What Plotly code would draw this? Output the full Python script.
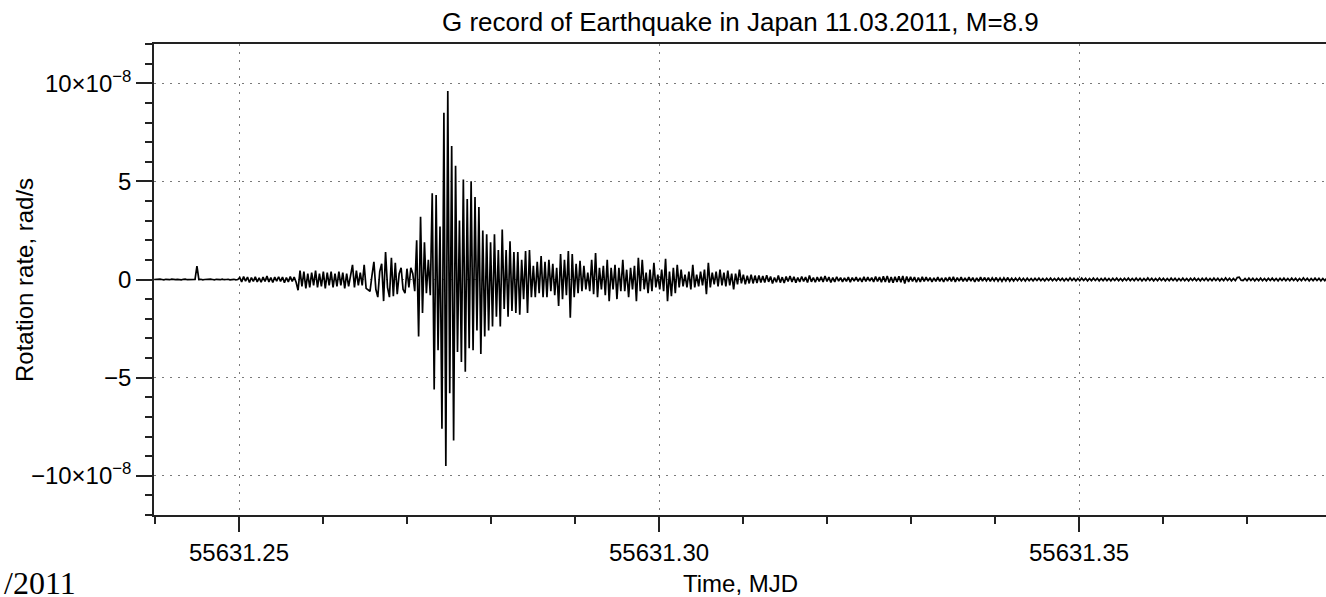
import numpy as np
import plotly.graph_objects as go

# Ring-laser "G" rotation-rate record, uniformly sampled
T0_MJD = 55631.2399          # time of the first sample (MJD)
DT_SECONDS = 20.0            # sampling interval

# rotation rate in units of 1e-8 rad/s
pre_event = [
    0.00, 0.01, -0.01, 0.02, 0.00, -0.02, 0.01, 0.00, -0.01, 0.02,
    0.00, -0.01, 0.01, 0.00, -0.02, 0.01, 0.02, -0.01, 0.00, 0.01,
    -0.01, 0.00, 0.68, 0.00, 0.01, -0.02, 0.00, 0.01, -0.01, 0.02,
    0.00, -0.02, 0.01, 0.00, -0.01, 0.02, -0.01, 0.00, 0.01, -0.02,
    0.00, 0.01, -0.02, 0.00,
]
first_arrivals = [
    0.10, -0.12, 0.15, -0.08, 0.12, -0.15, 0.10, -0.10, 0.14, -0.12,
    0.08, -0.14, 0.12, -0.10, 0.18, -0.12, 0.10, -0.15, 0.12, -0.08,
    0.14, -0.10, 0.12, -0.16, 0.10, -0.12, 0.15, -0.10, 0.12, -0.14,
    -0.55, 0.45, -0.35, 0.40, -0.45, 0.30, -0.40, 0.35, -0.30, 0.45,
    -0.40, 0.30, -0.35, 0.40, -0.45, 0.35, -0.30, 0.40, -0.40, 0.30,
    -0.35, 0.40, -0.30, 0.35, -0.45, 0.30, -0.35, 0.25,
    0.75, -0.40, 0.45, -0.30, 0.35, -0.30, 0.75, -0.45, -0.55, -0.60,
    0.20, 0.90, -0.50, -0.90, 0.40, 0.80, -1.10, 1.40, -0.40, -0.90,
    1.10, -0.85, 0.85, -0.75, 0.30, 0.60, -0.50, -0.70, 0.55, -0.40,
    0.60,
]
main_phase = [
    0.30, -0.60, 2.00, -2.90, 3.20, -1.70, 1.90, -0.70, 1.00, -0.80,
    4.40, -5.60, 4.30, -3.60, 2.70, -7.60, 8.50, -9.50, 9.60, -5.80,
    6.80, -8.20, 5.80, -3.70, 3.00, -4.20, 5.10, -4.70, 4.10, -3.50,
    5.00, -3.60, 4.20, -2.60, 3.70, -3.80, 2.50, -2.90, 2.30, -2.60,
    1.90, -2.40, 2.30, -1.90, 1.50, -2.40, 2.55, -1.50, 1.50, -1.90,
    1.95, -1.60, 1.40, -1.70, 1.40, -1.80, 1.00, -1.00, 1.45, -1.70,
    1.50, -0.90, 0.70, -0.90, 0.90, -0.70, 1.20, -0.90, 0.90, -0.90,
    1.00, -0.60, 0.80, -0.80, 0.60, -1.35, 1.30, -1.00,
]
coda = [
    1.00, -0.80, 1.45, -1.95, 1.30, -0.90, 0.80, -0.70, 0.95, -0.60,
    0.70, -0.50, 0.35, -0.60, 1.00, -0.75, 1.35, -0.90, 0.60, -0.50,
    0.70, -0.80, 1.00, -1.10, 0.60, -0.50, 0.75, -1.00, 0.60, -0.60,
    1.00, -0.60, 0.50, -0.90, 0.60, -0.50, 0.70, -1.10, 1.10, -0.60,
    1.00, -0.50, 0.35, -0.70, 0.50, -0.60, 0.85, -0.40, 0.25, -0.50,
    0.50, -0.60, 1.05, -1.10, 0.40, -0.85, 0.60, -0.70, 0.75, -0.40,
    0.50, -0.35, 0.25, -0.40, 0.40, -0.50, 0.75, -0.40, 0.25, -0.35,
    0.40, -0.30, 0.50, -0.75, 0.85, -0.40, 0.35, -0.25, 0.40, -0.35,
    0.50, -0.30, 0.35, -0.35, 0.45, -0.30, 0.30, -0.50, 0.30, -0.25,
    0.50, -0.20, 0.25, -0.25, 0.20, -0.20, 0.25, -0.20, 0.20, -0.18,
    0.20, -0.15,
]
late_tail = [
    0.18, -0.15, 0.22, -0.12, 0.15, -0.20, 0.10, -0.14, 0.20, -0.16,
    0.12, -0.18, 0.15, -0.10, 0.18, -0.12, 0.14, -0.16, 0.10, -0.12,
    0.15, -0.10, 0.12, -0.15, 0.20, -0.12, 0.10, -0.14, 0.12, -0.10,
    0.14, -0.12, 0.18, -0.10, 0.12, -0.15, 0.10, -0.12, 0.14, -0.08,
    0.10, -0.12, 0.08, -0.10, 0.12, -0.14, 0.10, -0.08, 0.12, -0.10,
    0.08, -0.12, 0.14, -0.10, 0.12, -0.08, 0.10, -0.12, 0.15, -0.10,
    0.12, -0.14, 0.16, -0.12, 0.18, -0.15, 0.12, -0.16, 0.14, -0.12,
    0.16, -0.14, 0.18, -0.20, 0.15, -0.12, 0.14, -0.10, 0.12, -0.14,
    0.10, -0.12, 0.14, -0.10, 0.12, -0.08, 0.10, -0.12, 0.08, -0.10,
    0.12, -0.10, 0.08, -0.12, 0.10, -0.08, 0.12, -0.10, 0.14, -0.12,
    0.10, -0.08, 0.12, -0.10, 0.08, -0.10, 0.12, -0.08, 0.10, -0.12,
    0.08, -0.10, 0.12, -0.08, 0.10, -0.07, 0.09, -0.10, 0.08, -0.07,
    0.10, -0.08, 0.07, -0.09, 0.08, -0.07, 0.10, -0.08, 0.06, -0.08,
    0.07, -0.06, 0.08, -0.07, 0.06, -0.08, 0.07, -0.06, 0.05, -0.07,
    0.06, -0.05, 0.07, -0.06, 0.05, -0.07, 0.06, -0.05, 0.07, -0.06,
    0.05, -0.06, 0.07, -0.05, 0.06, -0.07, 0.05, -0.06, 0.08, -0.05,
    0.06, -0.07, 0.05, -0.06, 0.07, -0.05, 0.06, -0.07, 0.05, -0.06,
    0.07, -0.05, 0.06, -0.07, 0.05, -0.06, 0.07, -0.06, 0.05, -0.07,
    0.06, -0.05, 0.07, -0.06, 0.05, -0.07, 0.06, -0.05, 0.07, -0.06,
    0.05, -0.06, 0.07, -0.05, 0.06, -0.07, 0.05, -0.06, 0.08, -0.05,
    0.06, -0.07, 0.05, -0.06, 0.07, -0.05, 0.06, -0.07, 0.05, -0.06,
    0.07, -0.05, 0.06, -0.07, 0.05, -0.06, 0.07, -0.06, 0.05, -0.07,
    0.06, -0.05, 0.07, -0.06, 0.05, -0.07, 0.06, -0.05, 0.07, -0.06,
    0.05, -0.06, 0.07, -0.05, 0.06, -0.07, 0.05, -0.06, 0.08, -0.05,
    0.06, -0.07, 0.05, -0.06, 0.10, 0.12, -0.04, -0.06, 0.05, -0.06,
    0.07, -0.05, 0.06, -0.07, 0.05, -0.06, 0.07, -0.06, 0.05, -0.07,
    0.06, -0.05, 0.07, -0.06, 0.05, -0.07, 0.06, -0.05, 0.07, -0.06,
    0.05, -0.06, 0.07, -0.05, 0.06, -0.07, 0.05, -0.06, 0.08, -0.05,
    0.06, -0.07, 0.05, -0.06, 0.07, -0.05, 0.06, -0.07, 0.05, -0.06,
    0.07,
]
rate_e8 = pre_event + first_arrivals + main_phase + coda + late_tail

X_RANGE = [55631.23988, 55631.3794]
Y_TICKS_E8 = [-10, -5, 0, 5, 10]
Y_TICK_TEXT = ["\u221210\u00d710<sup>\u22128</sup>", "\u22125", "0", "5",
               "10\u00d710<sup>\u22128</sup>"]

t_mjd = T0_MJD + np.arange(len(rate_e8)) * DT_SECONDS / 86400.0
rate = np.array(rate_e8) * 1e-8

fig = go.Figure()
fig.add_trace(go.Scatter(
    x=t_mjd, y=rate, mode="lines",
    line=dict(color="black", width=1.7),
    hoverinfo="skip", showlegend=False,
))

W, H = 1326, 597
L, R, T, B = 154, 0, 44, 82
PW, PH = W - L - R, H - T - B


def px_x(px):
    return (px - L) / PW


def px_y(py):
    return (H - B - py) / PH


SANS = "Liberation Sans, Arial, Helvetica, sans-serif"
AXIS_COLOR = "#222222"
GRID_COLOR = "#7a7a7a"

fig.update_layout(
    width=W, height=H,
    margin=dict(l=L, r=R, t=T, b=B, pad=0),
    paper_bgcolor="white", plot_bgcolor="white",
    font=dict(family=SANS, size=24, color="black"),
    showlegend=False,
)

fig.update_xaxes(
    range=X_RANGE,
    tickmode="linear", tick0=55631.25, dtick=0.05, tickformat=".2f",
    ticks="outside", ticklen=15, tickwidth=1.5, tickcolor=AXIS_COLOR,
    tickfont=dict(family=SANS, size=24, color="black"),
    showline=True, linecolor=AXIS_COLOR, linewidth=1.5, mirror=True,
    showgrid=True, gridcolor=GRID_COLOR, gridwidth=1, griddash="1.5px,6.5px",
    zeroline=False,
    minor=dict(tickmode="linear", tick0=55631.25, dtick=0.01, ticks="outside",
               ticklen=7, tickwidth=1.5, tickcolor=AXIS_COLOR, showgrid=False),
)

fig.update_yaxes(
    range=[-12e-8, 12e-8],
    tickmode="array", tickvals=[v * 1e-8 for v in Y_TICKS_E8], ticktext=Y_TICK_TEXT,
    ticks="outside", ticklen=16, tickwidth=1.5, tickcolor=AXIS_COLOR,
    tickfont=dict(family=SANS, size=24, color="black"),
    showline=True, linecolor=AXIS_COLOR, linewidth=1.5, mirror=False,
    showgrid=True, gridcolor=GRID_COLOR, gridwidth=1, griddash="1.5px,6.5px",
    zeroline=False,
    minor=dict(tickmode="linear", tick0=0, dtick=1e-8, ticks="outside",
               ticklen=7, tickwidth=1.5, tickcolor=AXIS_COLOR, showgrid=False),
)

annotations = [
    dict(text="G record of Earthquake in Japan 11.03.2011, M=8.9",
         x=0.5, y=px_y(22), xanchor="center", yanchor="middle",
         font=dict(family=SANS, size=26, color="black")),
    dict(text="Time, MJD",
         x=0.5, y=px_y(583), xanchor="center", yanchor="middle",
         font=dict(family=SANS, size=24, color="black")),
    dict(text="Rotation rate, rad/s", textangle=-90,
         x=px_x(24), y=px_y(280), xanchor="center", yanchor="middle",
         font=dict(family=SANS, size=24, color="black")),
    dict(text="/2011",
         x=px_x(78), y=px_y(583), xanchor="right", yanchor="middle",
         font=dict(family="Liberation Serif, Times New Roman, serif", size=32,
                   color="black")),
]
for a in annotations:
    a.update(xref="paper", yref="paper", showarrow=False)
fig.update_layout(annotations=annotations)

fig.write_html("out.html")
